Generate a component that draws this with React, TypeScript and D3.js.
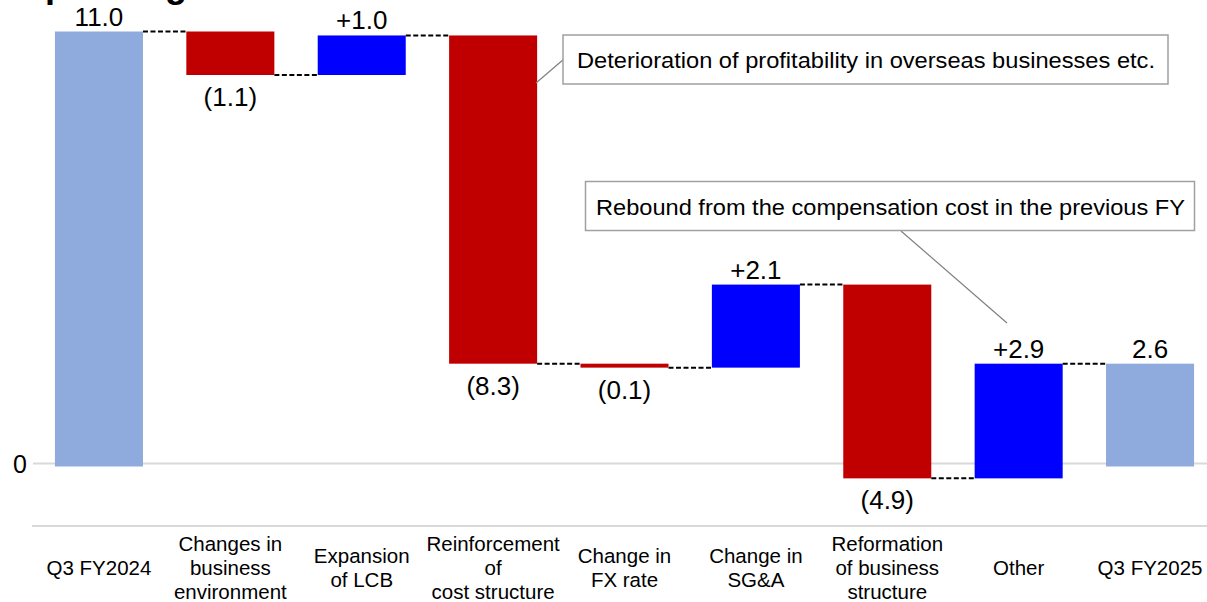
import React from "react";
import * as d3 from "d3";

const categories = [
  "Q3 FY2024",
  "Changes in business environment",
  "Expansion of LCB",
  "Reinforcement of cost structure",
  "Change in FX rate",
  "Change in SG&A",
  "Reformation of business structure",
  "Other",
  "Q3 FY2025",
];
const categoryLines = [
  ["Q3 FY2024"],
  ["Changes in", "business", "environment"],
  ["Expansion", "of LCB"],
  ["Reinforcement", "of", "cost structure"],
  ["Change in", "FX rate"],
  ["Change in", "SG&A"],
  ["Reformation", "of business", "structure"],
  ["Other"],
  ["Q3 FY2025"],
];
const values = [11.0, -1.1, 1.0, -8.3, -0.1, 2.1, -4.9, 2.9, 2.6];
const kinds = ["total", "delta", "delta", "delta", "delta", "delta", "delta", "delta", "total"];
const valueLabels = ["11.0", "(1.1)", "+1.0", "(8.3)", "(0.1)", "+2.1", "(4.9)", "+2.9", "2.6"];
const yTicks = [0];
const calloutTexts = [
  "Deterioration of profitability in overseas businesses etc.",
  "Rebound from the compensation cost in the previous FY",
];

const W = 1207;
const H = 602;
const FONT = "'Liberation Sans', Arial, Helvetica, sans-serif";
const COLORS = { total: "#8FAADC", up: "#0000FF", down: "#C00000" };

export default function App() {
  const x = d3
    .scaleBand<string>()
    .domain(categories)
    .range([33, 1216])
    .paddingInner(0.33)
    .paddingOuter(0.167);
  const y = d3.scaleLinear().domain([0, 11]).range([466.5, 31.5]);

  // running totals
  let run = 0;
  const bars = values.map((v, i) => {
    let start: number, end: number;
    if (kinds[i] === "total") {
      start = 0;
      end = v;
      run = v;
    } else {
      start = run;
      end = run + v;
      run = end;
    }
    return { cat: categories[i], v, start, end, kind: kinds[i], label: valueLabels[i], lines: categoryLines[i] };
  });

  const bw = x.bandwidth();
  const gridOffset = -3;

  return (
    <svg
      width={W}
      height={H}
      style={{ position: "absolute", left: 0, top: 0, background: "#fff", fontFamily: FONT }}
    >
      <rect x={0} y={0} width={W} height={H} fill="#fff" />
      {/* clipped title (only descenders visible, as in the reference) */}
      <text x={17} y={-3} fontSize={36} fontWeight="bold" fill="#000">
        Operating income
      </text>

      {/* gridline at zero */}
      {yTicks.map((t) => (
        <g key={t}>
          <line x1={33} x2={W} y1={y(t) + gridOffset} y2={y(t) + gridOffset} stroke="#d9d9d9" strokeWidth={2} />
          <text x={27} y={y(t) + gridOffset + 9} fontSize={25} textAnchor="end" fill="#000">
            {t}
          </text>
        </g>
      ))}

      {/* category axis line */}
      <line x1={32} x2={W} y1={526} y2={526} stroke="#d9d9d9" strokeWidth={2} />

      {/* connectors */}
      {bars.slice(0, -1).map((b, i) => {
        const yy = y(b.end);
        return (
          <line
            key={"c" + i}
            x1={(x(b.cat) as number) + bw}
            x2={x(bars[i + 1].cat) as number}
            y1={yy}
            y2={yy}
            stroke="#000"
            strokeWidth={2}
            strokeDasharray="5 2.5"
          />
        );
      })}

      {/* bars */}
      {bars.map((b, i) => {
        const top = y(Math.max(b.start, b.end));
        const bottom = y(Math.min(b.start, b.end));
        const color = b.kind === "total" ? COLORS.total : b.v >= 0 ? COLORS.up : COLORS.down;
        return (
          <rect
            key={"b" + i}
            x={x(b.cat) as number}
            y={top}
            width={bw}
            height={Math.max(1, bottom - top)}
            fill={color}
          />
        );
      })}

      {/* value labels */}
      {bars.map((b, i) => {
        const cx = (x(b.cat) as number) + bw / 2;
        const neg = b.kind !== "total" && b.v < 0;
        const yy = neg ? y(Math.min(b.start, b.end)) + 31 : y(Math.max(b.start, b.end)) - 6;
        return (
          <text key={"v" + i} x={cx} y={yy} fontSize={26} textAnchor="middle" fill="#000">
            {b.label}
          </text>
        );
      })}

      {/* category labels */}
      {bars.map((b, i) => {
        const cx = (x(b.cat) as number) + bw / 2;
        const n = b.lines.length;
        return (
          <text key={"l" + i} fontSize={20.5} textAnchor="middle" fill="#000">
            {b.lines.map((ln, j) => (
              <tspan key={j} x={cx} y={568 - (n - 1) * 12 + j * 24 + 7}>
                {ln}
              </tspan>
            ))}
          </text>
        );
      })}

      {/* callout 1 */}
      <line x1={564} y1={59} x2={536} y2={83} stroke="#808080" strokeWidth={1.2} />
      <rect x={563} y={35} width={605} height={49} fill="#fff" stroke="#a0a0a0" strokeWidth={1.5} />
      <text
        x={577}
        y={67.5}
        fontSize={22.5}
        textLength={578}
        lengthAdjust="spacingAndGlyphs"
        fill="#000"
      >
        {calloutTexts[0]}
      </text>

      {/* callout 2 */}
      <line x1={901} y1={231} x2={1007} y2={323} stroke="#808080" strokeWidth={1.2} />
      <rect x={585.5} y={181.5} width={609} height={49} fill="#fff" stroke="#a0a0a0" strokeWidth={1.5} />
      <text
        x={596}
        y={214.5}
        fontSize={22.5}
        textLength={589}
        lengthAdjust="spacingAndGlyphs"
        fill="#000"
      >
        {calloutTexts[1]}
      </text>
    </svg>
  );
}
